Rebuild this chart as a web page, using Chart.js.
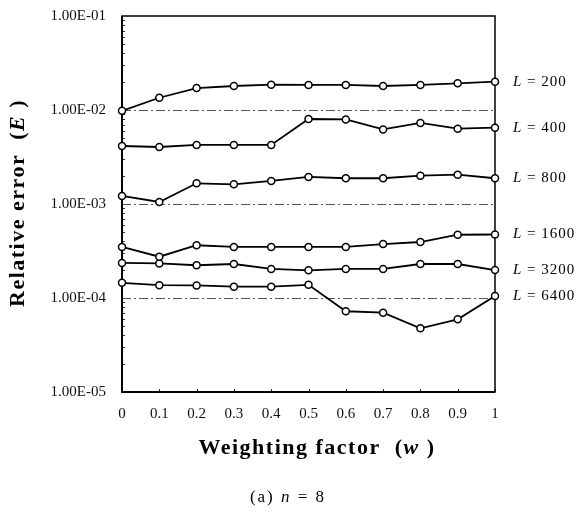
<!DOCTYPE html>
<html><head><meta charset="utf-8">
<script src="https://cdn.jsdelivr.net/npm/chart.js@4.4.0/dist/chart.umd.min.js"></script>
<style>html,body{margin:0;padding:0;background:#fff}#wrap{width:578px;height:513px}</style>
</head><body><div id="wrap"><canvas id="c" width="578" height="513"></canvas></div>
<script>
// ---- data ----
const weights = [0, 0.1, 0.2, 0.3, 0.4, 0.5, 0.6, 0.7, 0.8, 0.9, 1];
const errL200  = [0.0098, 0.0135, 0.0171, 0.0180, 0.0186, 0.0185, 0.0185, 0.0180, 0.0185, 0.0192, 0.0200];
const errL400  = [0.00414, 0.00404, 0.00425, 0.00425, 0.00425, 0.00802, 0.00794, 0.00622, 0.00728, 0.00633, 0.00649];
const errL800  = [0.00122, 0.00105, 0.00166, 0.00162, 0.00176, 0.00194, 0.00188, 0.00188, 0.00200, 0.00205, 0.00188];
const errL1600 = [0.000349, 0.000275, 0.000364, 0.000349, 0.000349, 0.000349, 0.000349, 0.000375, 0.000394, 0.000471, 0.000474];
const errL3200 = [0.000236, 0.000233, 0.000223, 0.000230, 0.000204, 0.000197, 0.000204, 0.000204, 0.000230, 0.000230, 0.000198];
const errL6400 = [0.000145, 0.000137, 0.000136, 0.000132, 0.000132, 0.000138, 0.0000723, 0.0000698, 0.0000476, 0.0000593, 0.000105];
const lengths = [200, 400, 800, 1600, 3200, 6400];
const seriesValues = [errL200, errL400, errL800, errL1600, errL3200, errL6400];
const yTickValues = [1e-5, 1e-4, 1e-3, 1e-2, 1e-1];
const gridValues = [1e-4, 1e-3, 1e-2];
const xTickValues = weights;
const yTitleMain = 'Relative error  (';
const yTitleVar = 'E';
const xTitleMain = 'Weighting factor  (';
const xTitleVar = 'w';
const captionPre = '(a) ';
const captionVar = 'n';
const captionPost = ' = 8';

const SERIF = "'Liberation Serif','Times New Roman',serif";

function fmtE(v) {
  const e = Math.round(Math.log10(v));
  const m = (v / Math.pow(10, e)).toFixed(2);
  return m + 'E' + (e < 0 ? '-' : '+') + String(Math.abs(e)).padStart(2, '0');
}

const datasets = seriesValues.map((vals, k) => ({
  label: 'L = ' + lengths[k],
  data: weights.map((w, i) => ({ x: w, y: vals[i] })),
  borderColor: '#000',
  borderWidth: 1.8,
  backgroundColor: '#fff',
  pointBackgroundColor: '#fff',
  pointBorderColor: '#000',
  pointBorderWidth: 1.5,
  pointRadius: 3.5,
  tension: 0,
  clip: false
}));

function drawMixed(ctx, parts, x, y, align, spacing) {
  ctx.letterSpacing = spacing + 'px';
  let total = 0;
  parts.forEach(p => { ctx.font = p.font; total += ctx.measureText(p.text).width; });
  let cx = align === 'center' ? x - total / 2 : x;
  ctx.textAlign = 'left';
  ctx.textBaseline = 'middle';
  parts.forEach(p => { ctx.font = p.font; ctx.fillText(p.text, cx, y); cx += ctx.measureText(p.text).width; });
  ctx.letterSpacing = '0px';
}

const decor = {
  id: 'decor',
  beforeDatasetsDraw(chart) {
    const { ctx, chartArea: a, scales } = chart;
    const ys = scales.y, xs = scales.x;
    ctx.save();
    ctx.strokeStyle = '#555';
    ctx.lineWidth = 1;
    ctx.setLineDash([9, 3, 2, 3]);
    gridValues.forEach(v => {
      const py = Math.round(ys.getPixelForValue(v)) + 0.5;
      ctx.beginPath(); ctx.moveTo(a.left, py); ctx.lineTo(a.right, py); ctx.stroke();
    });
    ctx.setLineDash([]);
    ctx.strokeStyle = '#333';
    ctx.lineWidth = 1;
    for (let e = -5; e < -1; e++) {
      for (let m = 2; m <= 9; m++) {
        const py = Math.round(ys.getPixelForValue(m * Math.pow(10, e))) + 0.5;
        ctx.beginPath(); ctx.moveTo(a.left, py); ctx.lineTo(a.left + 3, py); ctx.stroke();
      }
    }
    xTickValues.forEach(v => {
      const px = Math.round(xs.getPixelForValue(v)) + 0.5;
      ctx.beginPath(); ctx.moveTo(px, a.bottom); ctx.lineTo(px, a.bottom - 3); ctx.stroke();
    });
    ctx.strokeStyle = '#000';
    ctx.lineWidth = 1.5;
    ctx.strokeRect(a.left, a.top, a.right - a.left, a.bottom - a.top);
    ctx.lineWidth = 2;
    ctx.beginPath(); ctx.moveTo(a.left, a.top); ctx.lineTo(a.left, a.bottom); ctx.lineTo(a.right, a.bottom); ctx.stroke();
    ctx.restore();
  },
  afterDraw(chart) {
    const { ctx, chartArea: a, scales } = chart;
    const ys = scales.y;
    ctx.save();
    ctx.fillStyle = '#000';
    seriesValues.forEach((vals, k) => {
      const py = ys.getPixelForValue(vals[vals.length - 1]);
      drawMixed(ctx, [
        { text: 'L', font: 'italic 15px ' + SERIF },
        { text: ' = ' + lengths[k], font: '15px ' + SERIF }
      ], a.right + 18, py, 'left', 1);
    });
    drawMixed(ctx, [
      { text: xTitleMain, font: 'bold 22px ' + SERIF },
      { text: xTitleVar, font: 'bold italic 22px ' + SERIF },
      { text: ' )', font: 'bold 22px ' + SERIF }
    ], 317, 448, 'center', 1.5);
    drawMixed(ctx, [
      { text: captionPre, font: '17px ' + SERIF },
      { text: captionVar, font: 'italic 17px ' + SERIF },
      { text: captionPost, font: '17px ' + SERIF }
    ], 288, 498, 'center', 2);
    ctx.translate(18, 203);
    ctx.rotate(-Math.PI / 2);
    drawMixed(ctx, [
      { text: yTitleMain, font: 'bold 22px ' + SERIF },
      { text: yTitleVar, font: 'bold italic 22px ' + SERIF },
      { text: ' )', font: 'bold 22px ' + SERIF }
    ], 0, 0, 'center', 1.5);
    ctx.restore();
  }
};

new Chart(document.getElementById('c'), {
  type: 'line',
  data: { datasets },
  options: {
    responsive: false,
    animation: false,
    devicePixelRatio: 1,
    layout: { padding: { top: 16, right: 83, left: 0, bottom: 0 } },
    plugins: { legend: { display: false }, tooltip: { enabled: false }, title: { display: false } },
    scales: {
      x: {
        type: 'linear', min: 0, max: 1,
        afterBuildTicks: s => { s.ticks = xTickValues.map(v => ({ value: v })); },
        afterFit: s => { s.height = 121; s.paddingLeft = 0; s.paddingRight = 0; },
        grid: { display: false, drawTicks: false },
        border: { display: false },
        ticks: {
          autoSkip: false, maxRotation: 0, padding: 13, color: '#111',
          font: { family: SERIF, size: 15 },
          callback: v => String(Number(v.toFixed(1)))
        }
      },
      y: {
        type: 'logarithmic', min: 1e-5, max: 1e-1,
        afterBuildTicks: s => { s.ticks = yTickValues.map(v => ({ value: v })); },
        afterFit: s => { s.width = 122; s.paddingTop = 0; s.paddingBottom = 0; },
        grid: { display: false, drawTicks: false },
        border: { display: false },
        ticks: {
          autoSkip: false, padding: 16, color: '#111',
          font: { family: SERIF, size: 15 },
          callback: v => fmtE(v)
        }
      }
    }
  },
  plugins: [decor]
});
</script>
</body></html>
